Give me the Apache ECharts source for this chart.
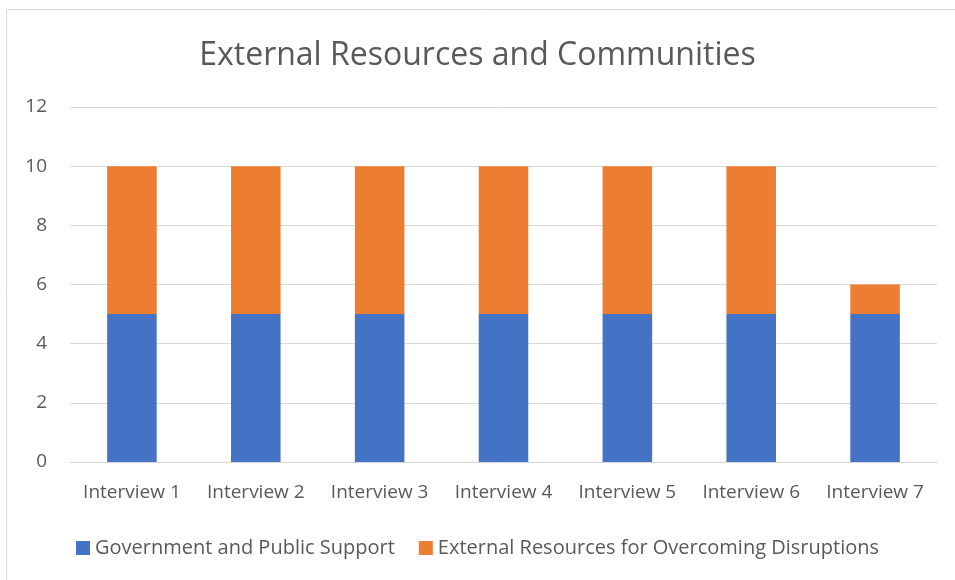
<!DOCTYPE html>
<html>
<head>
<meta charset="utf-8">
<script src="https://cdn.jsdelivr.net/npm/echarts@6/dist/echarts.min.js"></script>
<style>
  html, body { margin: 0; padding: 0; background: #fff; }
  #chart { width: 955px; height: 580px; }
</style>
</head>
<body>
<div id="chart"></div>
<script>
// Interview categories and the two stacked counts per interview
const categories = ['Interview 1', 'Interview 2', 'Interview 3', 'Interview 4', 'Interview 5', 'Interview 6', 'Interview 7'];
const governmentSupport = [5, 5, 5, 5, 5, 5, 5];
const externalResources = [5, 5, 5, 5, 5, 5, 1];
const yTicks = [0, 2, 4, 6, 8, 10, 12];

const FONT = '"Open Sans", "Noto Sans", sans-serif';
const chart = echarts.init(document.getElementById('chart'));

chart.setOption({
  animation: false,
  backgroundColor: '#ffffff',
  graphic: [{
    type: 'rect',
    shape: { x: 6.5, y: 9.5, width: 960, height: 600 },
    style: { fill: 'none', stroke: '#d9d9d9', lineWidth: 1 },
    silent: true
  }],
  title: {
    text: 'External Resources and Communities',
    left: 'center',
    top: 35,
    textStyle: { fontFamily: FONT, fontSize: 32, fontWeight: 'normal', color: '#595959' }
  },
  legend: {
    bottom: 17,
    left: 'center',
    itemWidth: 14,
    itemHeight: 14,
    itemGap: 24,
    itemTextGap: 6,
    icon: 'rect',
    textStyle: { fontFamily: FONT, fontSize: 20, color: '#595959' },
    data: ['Government and Public Support', 'External Resources for Overcoming Disruptions']
  },
  grid: { left: 70, right: 18, top: 107, bottom: 118 },
  xAxis: {
    type: 'category',
    data: categories,
    axisLine: { lineStyle: { color: '#d9d9d9', width: 1 } },
    axisTick: { show: false },
    axisLabel: { interval: 0, fontFamily: FONT, fontSize: 19, color: '#595959', margin: 21 }
  },
  yAxis: {
    type: 'value',
    min: yTicks[0],
    max: yTicks[yTicks.length - 1],
    interval: yTicks[1] - yTicks[0],
    axisLine: { show: false },
    axisTick: { show: false },
    splitLine: { lineStyle: { color: '#d9d9d9', width: 1 } },
    axisLabel: { fontFamily: FONT, fontSize: 19, color: '#595959', margin: 23 }
  },
  series: [
    {
      name: 'Government and Public Support',
      type: 'bar',
      stack: 'total',
      barCategoryGap: '60%',
      itemStyle: { color: '#4472c4' },
      data: governmentSupport
    },
    {
      name: 'External Resources for Overcoming Disruptions',
      type: 'bar',
      stack: 'total',
      barCategoryGap: '60%',
      itemStyle: { color: '#ed7d31' },
      data: externalResources
    }
  ]
});
</script>
</body>
</html>
